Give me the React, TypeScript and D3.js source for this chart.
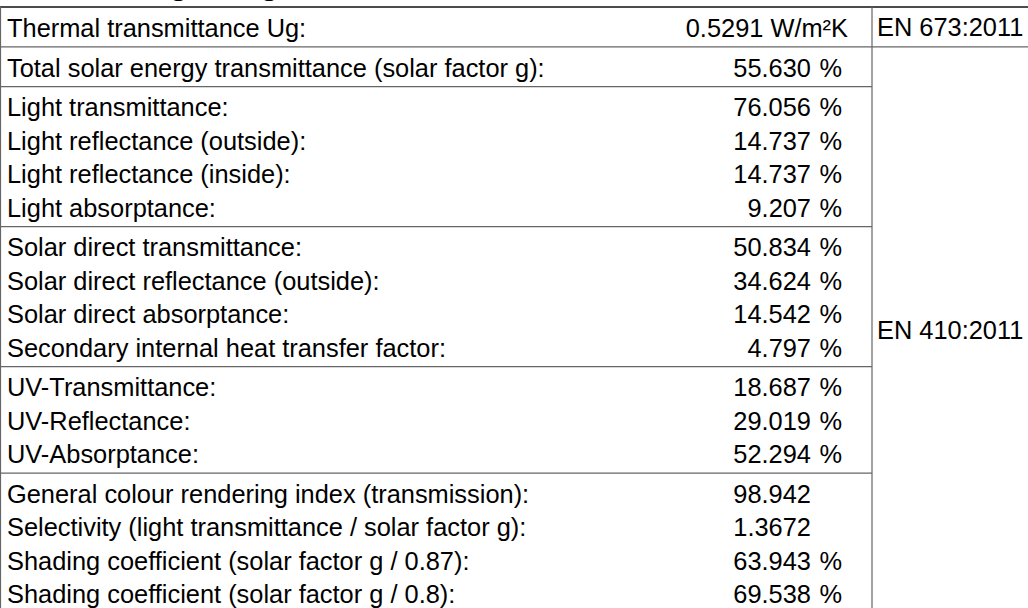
import * as d3 from 'd3';
import React from 'react';

const title = 'Values for glazing';

// rows per group (Ug | g | light | solar direct | UV | derived)
const groupSizes = [1, 1, 4, 4, 3, 4];

const labels = [
  'Thermal transmittance Ug:',
  'Total solar energy transmittance (solar factor g):',
  'Light transmittance:',
  'Light reflectance (outside):',
  'Light reflectance (inside):',
  'Light absorptance:',
  'Solar direct transmittance:',
  'Solar direct reflectance (outside):',
  'Solar direct absorptance:',
  'Secondary internal heat transfer factor:',
  'UV-Transmittance:',
  'UV-Reflectance:',
  'UV-Absorptance:',
  'General colour rendering index (transmission):',
  'Selectivity (light transmittance / solar factor g):',
  'Shading coefficient (solar factor g / 0.87):',
  'Shading coefficient (solar factor g / 0.8):',
];

const values = [
  '0.5291', '55.630', '76.056', '14.737', '14.737', '9.207', '50.834', '34.624',
  '14.542', '4.797', '18.687', '29.019', '52.294', '98.942', '1.3672', '63.943', '69.538',
];

const units = [
  'W/m²K', '%', '%', '%', '%', '%', '%', '%', '%', '%', '%', '%', '%', '', '', '%', '%',
];

const standards = ['EN 673:2011', 'EN 410:2011'];
const standardRows = [1, 16];

const W = 1028;
const H = 608;
const FONT = '"Liberation Sans", Arial, sans-serif';
const FS = 25.4;
const top = 7;
const rowH = 33.4;
const groupPad = 6.4;
const baseOff = 29.8;
const xLabel = 7;
const xNum = 811;
const xUnit = 819.5;
const xThermal = 848;
const xStd = 872;

export default function App() {
  const heights = groupSizes.map((n) => n * rowH + groupPad);
  const ends = Array.from(d3.cumsum(heights));
  const y = d3.scaleLinear().domain([0, 1]).range([top, top + 1]);
  const dividers = [0, ...ends].map((v) => y(v));

  const rows: { label: string; value: string; unit: string; base: number; i: number }[] = [];
  let idx = 0;
  groupSizes.forEach((n, g) => {
    for (let k = 0; k < n; k++) {
      rows.push({
        label: labels[idx],
        value: values[idx],
        unit: units[idx],
        base: dividers[g] + baseOff + k * rowH,
        i: idx,
      });
      idx++;
    }
  });

  // merged cells of the standard column
  const stdCells = standardRows.map((n, j) => {
    const startRow = d3.sum(standardRows.slice(0, j));
    const y0 = rows[startRow].base - baseOff;
    const endRow = startRow + n - 1;
    const y1 = j === standardRows.length - 1
      ? dividers[groupSizes.length]
      : rows[endRow].base - baseOff + rowH + groupPad;
    return { y0, y1, text: standards[j] };
  });

  return (
    <div style={{ position: 'absolute', left: 0, top: 0, width: W, height: H, overflow: 'hidden', background: '#fff' }}>
      <svg width={W} height={H} style={{ display: 'block' }} fontFamily={FONT}>
        <text x={xLabel} y={-6} fontSize={32} fontWeight="bold" fill="#000">
          {title}
        </text>

        {/* grid */}
        <line x1={0} x2={W} y1={top} y2={top} stroke="#111" strokeWidth={1.6} />
        {dividers.slice(1).map((d, g) => (
          <line
            key={g}
            x1={0}
            x2={g === 0 ? W : xStd}
            y1={d}
            y2={d}
            stroke="#666"
            strokeWidth={1.2}
          />
        ))}
        <line x1={0.5} x2={0.5} y1={top} y2={H} stroke="#666" strokeWidth={1.2} />
        <line x1={xStd} x2={xStd} y1={top} y2={H} stroke="#666" strokeWidth={1.2} />

        {rows.map((r) => (
          <g key={r.i} fontSize={FS} fill="#000">
            <text x={xLabel} y={r.base}>{r.label}</text>
            {r.i === 0 ? (
              <text x={xThermal} y={r.base} textAnchor="end">{`${r.value} ${r.unit}`}</text>
            ) : (
              <>
                <text x={xNum} y={r.base} textAnchor="end">{r.value}</text>
                {r.unit && <text x={xUnit} y={r.base}>{r.unit}</text>}
              </>
            )}
          </g>
        ))}

        {stdCells.map((c, j) => (
          <text
            key={j}
            x={xStd + 5}
            y={(c.y0 + c.y1) / 2 + FS * 0.36}
            fontSize={FS}
            fill="#000"
          >
            {c.text}
          </text>
        ))}
      </svg>
    </div>
  );
}
